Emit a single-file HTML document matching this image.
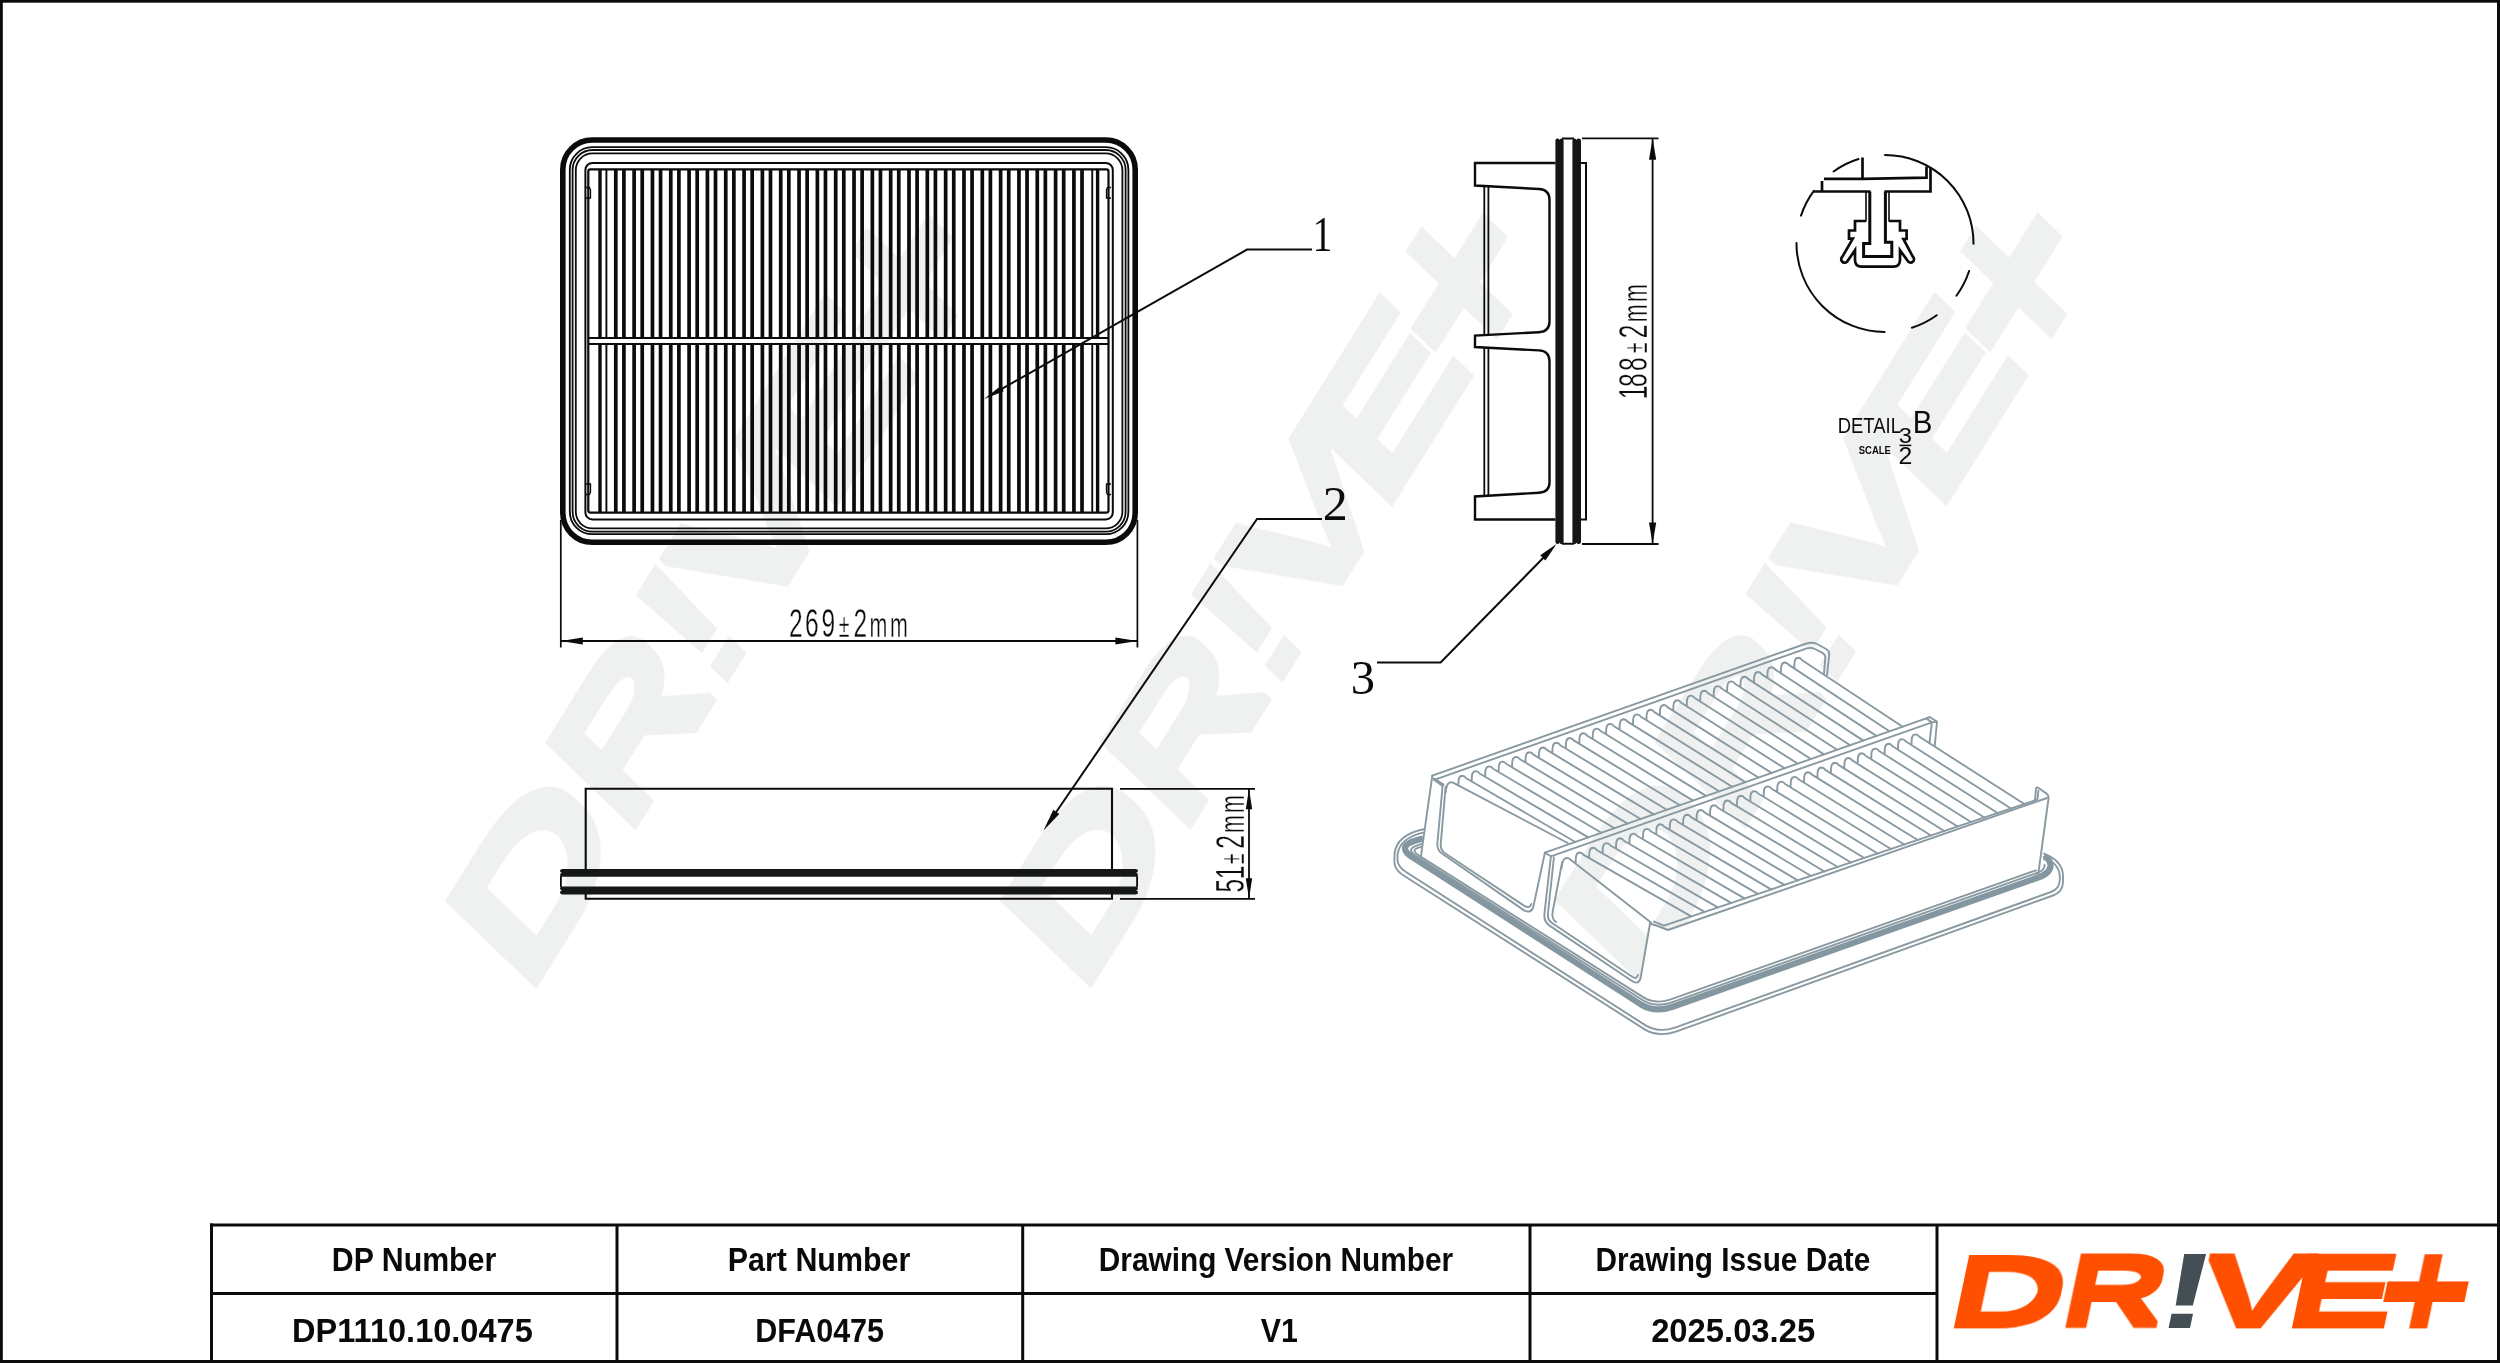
<!DOCTYPE html>
<html lang="en"><head><meta charset="utf-8"><title>DP1110.10.0475 DFA0475 drawing</title>
<style>html,body{margin:0;padding:0;background:#fff;}body{width:2500px;height:1363px;overflow:hidden;}svg{display:block;will-change:transform;}text{white-space:pre;}</style>
</head><body>
<svg width="2500" height="1363" viewBox="0 0 2500 1363">
<defs><filter id="vthick" x="-5%" y="-20%" width="110%" height="140%"><feMorphology operator="dilate" radius="0 3"/></filter></defs>
<rect x="0" y="0" width="2500" height="1363" fill="#fff"/>
<g transform="translate(536.5 989.1) rotate(-58) scale(1.68) skewX(-11.9)"><g filter="url(#vthick)"><text transform="translate(-11.02 -3.00) scale(1.6327 0.9891)" font-family="&quot;Liberation Sans&quot;, sans-serif" font-weight="bold" font-size="100" fill="#eef1f0" >D</text><text transform="translate(101.85 -3.00) scale(1.4451 0.9891)" font-family="&quot;Liberation Sans&quot;, sans-serif" font-weight="bold" font-size="100" fill="#eef1f0" >R</text></g><text transform="translate(200.33 0.00) scale(1.5228 1.0764)" font-family="&quot;Liberation Sans&quot;, sans-serif" font-weight="bold" font-size="100" fill="#eef1f0" >!</text><g filter="url(#vthick)"><text transform="translate(238.75 -3.00) scale(1.6705 0.9891)" font-family="&quot;Liberation Sans&quot;, sans-serif" font-weight="bold" font-size="100" fill="#eef1f0" >V</text><text transform="translate(326.91 -3.00) scale(1.6429 0.9891)" font-family="&quot;Liberation Sans&quot;, sans-serif" font-weight="bold" font-size="100" fill="#eef1f0" >E</text><text transform="translate(417.12 7.72) scale(1.6200 1.3399)" font-family="&quot;Liberation Sans&quot;, sans-serif" font-weight="bold" font-size="100" fill="#eef1f0">+</text></g></g>
<g transform="translate(1091.3 988.5) rotate(-58) scale(1.68) skewX(-11.9)"><g filter="url(#vthick)"><text transform="translate(-11.02 -3.00) scale(1.6327 0.9891)" font-family="&quot;Liberation Sans&quot;, sans-serif" font-weight="bold" font-size="100" fill="#eef1f0" >D</text><text transform="translate(101.85 -3.00) scale(1.4451 0.9891)" font-family="&quot;Liberation Sans&quot;, sans-serif" font-weight="bold" font-size="100" fill="#eef1f0" >R</text></g><text transform="translate(200.33 0.00) scale(1.5228 1.0764)" font-family="&quot;Liberation Sans&quot;, sans-serif" font-weight="bold" font-size="100" fill="#eef1f0" >!</text><g filter="url(#vthick)"><text transform="translate(238.75 -3.00) scale(1.6705 0.9891)" font-family="&quot;Liberation Sans&quot;, sans-serif" font-weight="bold" font-size="100" fill="#eef1f0" >V</text><text transform="translate(326.91 -3.00) scale(1.6429 0.9891)" font-family="&quot;Liberation Sans&quot;, sans-serif" font-weight="bold" font-size="100" fill="#eef1f0" >E</text><text transform="translate(417.12 7.72) scale(1.6200 1.3399)" font-family="&quot;Liberation Sans&quot;, sans-serif" font-weight="bold" font-size="100" fill="#eef1f0">+</text></g></g>
<g transform="translate(1646 988) rotate(-58) scale(1.68) skewX(-11.9)"><g filter="url(#vthick)"><text transform="translate(-11.02 -3.00) scale(1.6327 0.9891)" font-family="&quot;Liberation Sans&quot;, sans-serif" font-weight="bold" font-size="100" fill="#eef1f0" >D</text><text transform="translate(101.85 -3.00) scale(1.4451 0.9891)" font-family="&quot;Liberation Sans&quot;, sans-serif" font-weight="bold" font-size="100" fill="#eef1f0" >R</text></g><text transform="translate(200.33 0.00) scale(1.5228 1.0764)" font-family="&quot;Liberation Sans&quot;, sans-serif" font-weight="bold" font-size="100" fill="#eef1f0" >!</text><g filter="url(#vthick)"><text transform="translate(238.75 -3.00) scale(1.6705 0.9891)" font-family="&quot;Liberation Sans&quot;, sans-serif" font-weight="bold" font-size="100" fill="#eef1f0" >V</text><text transform="translate(326.91 -3.00) scale(1.6429 0.9891)" font-family="&quot;Liberation Sans&quot;, sans-serif" font-weight="bold" font-size="100" fill="#eef1f0" >E</text><text transform="translate(417.12 7.72) scale(1.6200 1.3399)" font-family="&quot;Liberation Sans&quot;, sans-serif" font-weight="bold" font-size="100" fill="#eef1f0">+</text></g></g>
<path d="M1650 923L1668 930L2047 798L2048.5 800L2044 854Q2064 862 2063 876L2062 892L1675 1032Q1660 1037 1646 1030L1404 875.5Q1394 868 1394.5 856Q1396 836 1423 829L1420.9 856.3L1440 852L1524 910L1545 916L1550 928L1634 983L1640 980Z" fill="#fff"/>
<g fill="none" stroke="#8999a1" stroke-width="1.9" stroke-linecap="round" stroke-linejoin="round">
<path d="M1423.3 829.2Q1397 835 1394.6 853L1394.4 862Q1394.5 870 1404 875.8L1645 1029.6Q1659 1037.5 1676 1031.6L2053 895.5Q2062.8 892 2063 882V876Q2063 861 2044 853.6"/>
<path d="M1423 832.6Q1400 838 1397.6 854L1397.5 859.5Q1397.6 866.5 1406 872L1646 1025.6Q1659 1033 1675 1027.6L2051 892Q2059.6 888.6 2059.8 880V876.5Q2059.6 864 2043.6 857"/>
<path d="M1423 838.6Q1402 843 1405.5 850.5Q1407 854 1412 857L1641 1004.5Q1655 1013 1672 1007L2038 877.5Q2051 873 2050.5 865Q2050 858.5 2043.8 856.8" stroke="#8497a1" stroke-width="6.2" stroke-linecap="butt"/>
<path d="M1422.6 843.8Q1409 847 1411.4 851.6Q1413 854 1416 856L1642.5 1000Q1655 1008 1671 1002.6L2037 873Q2045 870 2044.6 865"/>
<path d="M1422.4 846.6Q1413.5 848.6 1414.6 851.4Q1415.6 853.4 1418.6 855.4L1643.5 997.4Q1655 1004.6 1670 999.6L2036 870.4"/>
<path d="M1432.3 775.6L1442.6 785.9L1437.5 843L1437 851L1420.9 856.3Z" fill="#fff" stroke="none"/>
<path d="M1432.3 775.6L1805 644Q1812 641.5 1817 644L1826 649Q1829.6 651 1829.2 655L1827 675"/>
<path d="M1434.2 779.9L1806 648.6Q1811 647 1815 649L1822 652.6Q1825.6 654.6 1825.3 658L1824 674"/>
<path d="M1432.3 775.6L1420.9 856.3"/>
<path d="M1434.2 779.9L1442.6 785.9M1433.6 778.4L1443.6 784.6" />
<path d="M1442.6 785.9L1437.5 842Q1436.6 850 1442 853.5L1523 909.6Q1530.6 914.6 1533.2 907.4L1544.9 852.7"/>
<path d="M1445.6 787L1440.8 843Q1440 850 1445 853.2L1524 905.6Q1529.6 909 1531.4 904"/>
<path d="M1445.8 792Q1446.6 780.4 1453 782.6L1567.7 843"/>
<path d="M1544.9 852.7L1926.2 718.4L1929.8 717L1937 721.7L1934.8 745.4"/>
<path d="M1550.9 856.3L1931.9 722.4L1929.4 743.3M1544.9 852.7L1550.9 856.3M1926.2 718.4L1931.9 722.4L1937 721.7"/>
<path d="M1550.9 856.3L1544.4 914Q1543.6 921.6 1549.6 925.6L1632 981Q1638.6 985.4 1640.6 978L1650 923.5"/>
<path d="M1553.9 857.5L1547.9 914Q1547.4 920 1552 923L1632.6 977Q1636.6 979.6 1638 975"/>
<path d="M1561.6 868Q1562.6 855.8 1569 858.4L1651 922.6"/>
<path d="M1562.2 862L1552.6 912Q1551.4 919 1556 922"/>
<path d="M1650 923.5L1659 926.5L1668 930L2047 798"/>
<path d="M1654 921.6L1664 925.6L2036 800"/>
<path d="M2035 800.5L2036 788.6Q2036.6 786.6 2038.6 788L2046.6 793.6Q2048.8 795.4 2048.6 798L2038 876"/>
<path d="M2038.4 790.6L2037.4 799.4"/>
<path d="M1458.4 785.4C1458.1 779.4 1459.0 775.8 1462.4 775.8Q1464.6 776.0 1466.2 778.2L1575.3 842.0M1471.8 780.7C1471.5 774.7 1472.4 771.1 1475.8 771.1Q1478.0 771.3 1479.6 773.5L1588.3 837.4M1485.3 776.0C1485.0 770.0 1485.9 766.4 1489.3 766.4Q1491.5 766.6 1493.1 768.8L1601.4 832.8M1498.7 771.2C1498.4 765.2 1499.3 761.6 1502.7 761.6Q1504.9 761.8 1506.5 764.0L1614.5 828.2M1512.2 766.5C1511.9 760.5 1512.8 756.9 1516.2 756.9Q1518.4 757.1 1520.0 759.3L1627.6 823.6M1525.6 761.8C1525.3 755.8 1526.2 752.2 1529.6 752.2Q1531.8 752.4 1533.4 754.6L1640.6 819.0M1539.0 757.1C1538.7 751.1 1539.6 747.5 1543.0 747.5Q1545.2 747.7 1546.8 749.9L1653.7 814.4M1552.5 752.4C1552.2 746.4 1553.1 742.8 1556.5 742.8Q1558.7 743.0 1560.3 745.2L1666.8 809.8M1565.9 747.6C1565.6 741.6 1566.5 738.0 1569.9 738.0Q1572.1 738.2 1573.7 740.4L1679.9 805.2M1579.4 742.9C1579.1 736.9 1580.0 733.3 1583.4 733.3Q1585.6 733.5 1587.2 735.7L1693.0 800.6M1592.8 738.2C1592.5 732.2 1593.4 728.6 1596.8 728.6Q1599.0 728.8 1600.6 731.0L1706.1 795.9M1606.2 733.5C1605.9 727.5 1606.8 723.9 1610.2 723.9Q1612.4 724.1 1614.0 726.3L1719.2 791.3M1619.7 728.8C1619.4 722.8 1620.3 719.2 1623.7 719.2Q1625.9 719.4 1627.5 721.6L1732.2 786.7M1633.1 724.0C1632.8 718.0 1633.7 714.4 1637.1 714.4Q1639.3 714.6 1640.9 716.8L1745.3 782.1M1646.6 719.3C1646.3 713.3 1647.2 709.7 1650.6 709.7Q1652.8 709.9 1654.4 712.1L1758.4 777.5M1660.0 714.6C1659.7 708.6 1660.6 705.0 1664.0 705.0Q1666.2 705.2 1667.8 707.4L1771.5 772.9M1673.4 709.9C1673.1 703.9 1674.0 700.3 1677.4 700.3Q1679.6 700.5 1681.2 702.7L1784.6 768.3M1686.9 705.2C1686.6 699.2 1687.5 695.6 1690.9 695.6Q1693.1 695.8 1694.7 698.0L1797.7 763.6M1700.3 700.4C1700.0 694.4 1700.9 690.8 1704.3 690.8Q1706.5 691.0 1708.1 693.2L1810.9 759.0M1713.8 695.7C1713.5 689.7 1714.4 686.1 1717.8 686.1Q1720.0 686.3 1721.6 688.5L1824.0 754.4M1727.2 691.0C1726.9 685.0 1727.8 681.4 1731.2 681.4Q1733.4 681.6 1735.0 683.8L1837.1 749.8M1740.6 686.3C1740.3 680.3 1741.2 676.7 1744.6 676.7Q1746.8 676.9 1748.4 679.1L1850.2 745.2M1754.1 681.6C1753.8 675.6 1754.7 672.0 1758.1 672.0Q1760.3 672.2 1761.9 674.4L1863.3 740.6M1767.5 676.8C1767.2 670.8 1768.1 667.2 1771.5 667.2Q1773.7 667.4 1775.3 669.6L1876.4 735.9M1781.0 672.1C1780.7 666.1 1781.6 662.5 1785.0 662.5Q1787.2 662.7 1788.8 664.9L1889.5 731.3M1794.4 667.4C1794.1 661.4 1795.0 657.8 1798.4 657.8Q1800.6 658.0 1802.2 660.2L1902.7 726.7"/>
<path d="M1575.8 862.1C1575.5 856.1 1576.4 852.5 1579.8 852.5Q1582.0 852.7 1583.6 854.9L1691.2 916.4M1589.2 857.4C1588.9 851.4 1589.8 847.8 1593.2 847.8Q1595.4 848.0 1597.0 850.2L1704.5 911.9M1602.7 852.7C1602.4 846.7 1603.3 843.1 1606.7 843.1Q1608.9 843.3 1610.5 845.5L1717.8 907.4M1616.1 847.9C1615.8 841.9 1616.7 838.3 1620.1 838.3Q1622.3 838.5 1623.9 840.7L1731.1 902.9M1629.5 843.2C1629.2 837.2 1630.1 833.6 1633.5 833.6Q1635.7 833.8 1637.3 836.0L1744.4 898.4M1643.0 838.5C1642.7 832.5 1643.6 828.9 1647.0 828.9Q1649.2 829.1 1650.8 831.3L1757.8 893.9M1656.4 833.8C1656.1 827.8 1657.0 824.2 1660.4 824.2Q1662.6 824.4 1664.2 826.6L1771.1 889.4M1669.8 829.0C1669.5 823.0 1670.4 819.4 1673.8 819.4Q1676.0 819.6 1677.6 821.8L1784.4 884.9M1683.2 824.3C1682.9 818.3 1683.8 814.7 1687.2 814.7Q1689.4 814.9 1691.0 817.1L1797.7 880.4M1696.7 819.6C1696.4 813.6 1697.3 810.0 1700.7 810.0Q1702.9 810.2 1704.5 812.4L1811.1 876.0M1710.1 814.9C1709.8 808.9 1710.7 805.3 1714.1 805.3Q1716.3 805.5 1717.9 807.7L1824.4 871.5M1723.5 810.1C1723.2 804.1 1724.1 800.5 1727.5 800.5Q1729.7 800.7 1731.3 802.9L1837.7 867.0M1737.0 805.4C1736.7 799.4 1737.6 795.8 1741.0 795.8Q1743.2 796.0 1744.8 798.2L1851.0 862.5M1750.4 800.7C1750.1 794.7 1751.0 791.1 1754.4 791.1Q1756.6 791.3 1758.2 793.5L1864.3 858.0M1763.8 796.0C1763.5 790.0 1764.4 786.4 1767.8 786.4Q1770.0 786.6 1771.6 788.8L1877.7 853.5M1777.3 791.2C1777.0 785.2 1777.9 781.6 1781.3 781.6Q1783.5 781.8 1785.1 784.0L1891.0 849.0M1790.7 786.5C1790.4 780.5 1791.3 776.9 1794.7 776.9Q1796.9 777.1 1798.5 779.3L1904.3 844.5M1804.1 781.8C1803.8 775.8 1804.7 772.2 1808.1 772.2Q1810.3 772.4 1811.9 774.6L1917.7 840.0M1817.5 777.1C1817.2 771.1 1818.1 767.5 1821.5 767.5Q1823.7 767.7 1825.3 769.9L1931.0 835.5M1831.0 772.3C1830.7 766.3 1831.6 762.7 1835.0 762.7Q1837.2 762.9 1838.8 765.1L1944.3 831.0M1844.4 767.6C1844.1 761.6 1845.0 758.0 1848.4 758.0Q1850.6 758.2 1852.2 760.4L1957.6 826.5M1857.8 762.9C1857.5 756.9 1858.4 753.3 1861.8 753.3Q1864.0 753.5 1865.6 755.7L1971.0 822.0M1871.3 758.2C1871.0 752.2 1871.9 748.6 1875.3 748.6Q1877.5 748.8 1879.1 751.0L1984.3 817.5M1884.7 753.4C1884.4 747.4 1885.3 743.8 1888.7 743.8Q1890.9 744.0 1892.5 746.2L1997.6 813.0M1898.1 748.7C1897.8 742.7 1898.7 739.1 1902.1 739.1Q1904.3 739.3 1905.9 741.5L2011.0 808.5M1911.6 744.0C1911.3 738.0 1912.2 734.4 1915.6 734.4Q1917.8 734.6 1919.4 736.8L2024.3 804.0"/>
</g>
<g fill="none" stroke="#0b0b0b">
<path d="M592.3 140H1105.7A29.5 29.5 0 0 1 1135.2 169.5V512.8A29.5 29.5 0 0 1 1105.7 542.3H592.3A29.5 29.5 0 0 1 562.8 512.8V169.5A29.5 29.5 0 0 1 592.3 140Z" stroke-width="5.6"/>
<path d="M592.3 147.2H1105.9A22.5 22.5 0 0 1 1128.4 169.7V511.70000000000005A22.5 22.5 0 0 1 1105.9 534.2H592.3A22.5 22.5 0 0 1 569.8 511.70000000000005V169.7A22.5 22.5 0 0 1 592.3 147.2Z" stroke-width="1.8"/>
<path d="M592.4 150H1105.8A19.8 19.8 0 0 1 1125.6 169.8V511.8A19.8 19.8 0 0 1 1105.8 531.6H592.4A19.8 19.8 0 0 1 572.6 511.8V169.8A19.8 19.8 0 0 1 592.4 150Z" stroke-width="1.8"/>
<path d="M592.4 153.4H1105.8000000000002A16.6 16.6 0 0 1 1122.4 170.0V511.79999999999995A16.6 16.6 0 0 1 1105.8000000000002 528.4H592.4A16.6 16.6 0 0 1 575.8 511.79999999999995V170.0A16.6 16.6 0 0 1 592.4 153.4Z" stroke-width="1.8"/>
<path d="M592.4 163H1105.8A7 7 0 0 1 1112.8 170V512.4A7 7 0 0 1 1105.8 519.4H592.4A7 7 0 0 1 585.4 512.4V170A7 7 0 0 1 592.4 163Z" stroke-width="2"/>
<path d="M590.3 169.4H1106.5A2 2 0 0 1 1108.5 171.4V510.6A2 2 0 0 1 1106.5 512.6H590.3A2 2 0 0 1 588.3 510.6V171.4A2 2 0 0 1 590.3 169.4Z" stroke-width="2.2"/>
<path d="M588.3 338H1108.5M588.3 344H1108.5" stroke-width="2.2"/>
<path d="M586 187.5h3.5l1 2.5v8h-4.5M586 494.5h3.5l1 -2.5v-8h-4.5M1111 187.5h-3.5l-1 2.5v8h4.5M1111 494.5h-3.5l-1 -2.5v-8h4.5" stroke-width="1.3"/>
<path d="M615.80 170V337.5M615.80 344.5V512M623.90 170V337.5M623.90 344.5V512M634.12 170V337.5M634.12 344.5V512M642.23 170V337.5M642.23 344.5V512M652.45 170V337.5M652.45 344.5V512M660.55 170V337.5M660.55 344.5V512M670.77 170V337.5M670.77 344.5V512M678.88 170V337.5M678.88 344.5V512M689.10 170V337.5M689.10 344.5V512M697.20 170V337.5M697.20 344.5V512M707.42 170V337.5M707.42 344.5V512M715.52 170V337.5M715.52 344.5V512M725.75 170V337.5M725.75 344.5V512M733.85 170V337.5M733.85 344.5V512M744.07 170V337.5M744.07 344.5V512M752.17 170V337.5M752.17 344.5V512M762.40 170V337.5M762.40 344.5V512M770.50 170V337.5M770.50 344.5V512M780.72 170V337.5M780.72 344.5V512M788.82 170V337.5M788.82 344.5V512M799.05 170V337.5M799.05 344.5V512M807.15 170V337.5M807.15 344.5V512M817.38 170V337.5M817.38 344.5V512M825.48 170V337.5M825.48 344.5V512M835.70 170V337.5M835.70 344.5V512M843.80 170V337.5M843.80 344.5V512M854.02 170V337.5M854.02 344.5V512M862.12 170V337.5M862.12 344.5V512M872.35 170V337.5M872.35 344.5V512M880.45 170V337.5M880.45 344.5V512M890.67 170V337.5M890.67 344.5V512M898.77 170V337.5M898.77 344.5V512M909.00 170V337.5M909.00 344.5V512M917.10 170V337.5M917.10 344.5V512M927.32 170V337.5M927.32 344.5V512M935.42 170V337.5M935.42 344.5V512M945.65 170V337.5M945.65 344.5V512M953.75 170V337.5M953.75 344.5V512M963.97 170V337.5M963.97 344.5V512M972.07 170V337.5M972.07 344.5V512M982.30 170V337.5M982.30 344.5V512M990.40 170V337.5M990.40 344.5V512M1000.62 170V337.5M1000.62 344.5V512M1008.73 170V337.5M1008.73 344.5V512M1018.95 170V337.5M1018.95 344.5V512M1027.05 170V337.5M1027.05 344.5V512M1037.27 170V337.5M1037.27 344.5V512M1045.37 170V337.5M1045.37 344.5V512M1055.60 170V337.5M1055.60 344.5V512M1063.70 170V337.5M1063.70 344.5V512M1073.92 170V337.5M1073.92 344.5V512M1082.02 170V337.5M1082.02 344.5V512" stroke-width="3.7"/>
<path d="M600.00 170V337.5M600.00 344.5V512M1097.60 170V337.5M1097.60 344.5V512" stroke-width="3.4"/>
<path d="M1092.25 170V337.5M1092.25 344.5V512M606.40 170V337.5M606.40 344.5V512" stroke-width="1.9"/>
</g>
<g fill="none" stroke="#0b0b0b">
<path d="M560.8 520V647.6M1137.4 520V647.6" stroke-width="1.7"/>
<path d="M561 641H1137.2" stroke-width="1.9"/>
</g>
<path d="M560.80 641.00L582.80 637.60L582.80 644.40Z" fill="#0b0b0b" stroke="none"/>
<path d="M1137.40 641.00L1115.40 644.40L1115.40 637.60Z" fill="#0b0b0b" stroke="none"/>
<text transform="translate(0 636.7) scale(0.2450 0.4040)" font-family="&quot;Liberation Sans&quot;, sans-serif" font-weight="normal" font-size="100" fill="#0b0b0b" stroke="#fff" stroke-width="1.0"><tspan x="3220.6" font-size="100">2</tspan><tspan x="3285.8" font-size="100">6</tspan><tspan x="3353.3" font-size="100">9</tspan><tspan x="3423.9" font-size="80">±</tspan><tspan x="3483.5" font-size="100">2</tspan><tspan x="3549.4" font-size="87.5">m</tspan><tspan x="3632.9" font-size="87.5">m</tspan></text>
<g fill="none" stroke="#0b0b0b">
<path d="M585.7 869V788.8H1112V869M585.7 894V898.8H1112V894" stroke-width="2.1"/>
</g>
<path d="M562.5 869H1135.5Q1138 869 1138 870.8Q1138 872.6 1136 872.8Q1138 873 1138 875Q1138 876.8 1135.5 876.8H562.5Q560 876.8 560 875Q560 873 562 872.8Q560 872.6 560 870.8Q560 869 562.5 869Z" fill="#151717"/>
<path d="M562.5 886.4H1135.5Q1138 886.4 1138 888.2Q1138 890 1136 890.3Q1138 890.6 1138 892.6Q1138 894.6 1135.5 894.6H562.5Q560 894.6 560 892.6Q560 890.6 562 890.3Q560 890 560 888.2Q560 886.4 562.5 886.4Z" fill="#151717"/>
<path d="M560.9 876V887M1137.1 876V887" stroke="#0b0b0b" stroke-width="1.8" fill="none"/>
<g fill="none" stroke="#0b0b0b">
<path d="M1120 788.8H1255M1120 898.8H1255" stroke-width="1.8"/>
<path d="M1249 789V898.6" stroke-width="1.8"/>
</g>
<path d="M1249.00 788.80L1252.20 809.30L1245.80 809.30Z" fill="#0b0b0b" stroke="none"/>
<path d="M1249.00 898.80L1245.80 878.30L1252.20 878.30Z" fill="#0b0b0b" stroke="none"/>
<text transform="translate(1243.9 891.6) rotate(-90) scale(0.2450 0.4040)" font-family="&quot;Liberation Sans&quot;, sans-serif" font-weight="normal" font-size="100" fill="#0b0b0b" stroke="#fff" stroke-width="1.0"><tspan x="-3.5" font-size="100">5</tspan><tspan x="50.9" font-size="100">1</tspan><tspan x="111.5" font-size="80">±</tspan><tspan x="174.9" font-size="100">2</tspan><tspan x="239.0" font-size="87.5">m</tspan><tspan x="320.6" font-size="87.5">m</tspan></text>
<g fill="none" stroke="#0b0b0b">
<path d="M1555.5 163H1475V185.5L1539 189Q1549.5 189.6 1549.5 200V321.5Q1549.5 331.6 1539 332.2L1475 335.6V347L1539 350.4Q1549.5 351 1549.5 361.5V482.5Q1549.5 492 1539 492.7L1475 496.5V519.5H1555.5" stroke-width="2.4"/>
<path d="M1484.3 186.2V335M1488.4 186.4V334.8M1484.3 347.6V495.8M1488.4 347.8V495.6" stroke-width="1.8"/>
<path d="M1581 163H1586V519.5H1581" stroke-width="2"/>
<path d="M1562 138.6H1574M1562 543.8H1574" stroke-width="2"/>
</g>
<path d="M1555.4 140.5Q1555.4 138.6 1557.4 138.6Q1559.2 138.6 1559.4 140Q1559.6 138.4 1561.6 138.4Q1563.6 138.4 1563.6 140.5V542Q1563.6 544 1561.6 544Q1559.6 544 1559.4 542.5Q1559.2 544 1557.4 544Q1555.4 544 1555.4 542Z" fill="#151717"/>
<path d="M1572.4 140.5Q1572.4 138.4 1574.4 138.4Q1576.4 138.4 1576.6 140Q1576.8 138.6 1578.8 138.6Q1581 138.6 1581 140.5V542Q1581 544 1578.8 544Q1576.8 544 1576.6 542.5Q1576.4 544 1574.4 544Q1572.4 544 1572.4 542Z" fill="#151717"/>
<g fill="none" stroke="#0b0b0b">
<path d="M1582 138.3H1658.5M1582 544H1658.5" stroke-width="1.8"/>
<path d="M1652.6 139V543.5" stroke-width="1.8"/>
</g>
<path d="M1652.60 138.30L1656.20 159.80L1649.00 159.80Z" fill="#0b0b0b" stroke="none"/>
<path d="M1652.60 544.00L1649.00 522.50L1656.20 522.50Z" fill="#0b0b0b" stroke="none"/>
<text transform="translate(1647.4 396.6) rotate(-90) scale(0.2450 0.4040)" font-family="&quot;Liberation Sans&quot;, sans-serif" font-weight="normal" font-size="100" fill="#0b0b0b" stroke="#fff" stroke-width="1.0"><tspan x="-11.2" font-size="100">1</tspan><tspan x="39.2" font-size="100">8</tspan><tspan x="104.5" font-size="100">8</tspan><tspan x="176.6" font-size="80">±</tspan><tspan x="238.0" font-size="100">2</tspan><tspan x="303.1" font-size="87.5">m</tspan><tspan x="385.7" font-size="87.5">m</tspan></text>
<g fill="none" stroke="#0b0b0b" stroke-linejoin="miter">
<path d="M1885 155A88.5 88.5 0 1 1 1885 332A88.5 88.5 0 1 1 1885 155" stroke-width="2" stroke-dasharray="139 27.8 27.8 27.8 27.8 27.8" stroke-linecap="round"/>
<g stroke-width="2.7">
<path d="M1824 178.8H1863L1926.5 177.6V166.5"/>
<path d="M1862.5 157.5V178.8"/>
<path d="M1822 181V191.5"/>
<path d="M1813.5 191.5H1870.5"/>
<path d="M1884.5 191.5H1930.5V167"/>
<path d="M1869.8 191.5V243.6H1863.6V256.6H1891.8V242.2H1885.4V191.5" stroke-width="3"/>
<path d="M1866 221H1855V230.5H1849V238.6H1852.8L1842.4 256.6A3.1 3.1 0 1 0 1847 261.8L1855 250.2V260Q1855 266.6 1861.5 266.6H1893.4Q1900 266.6 1900 260V250.2L1908.4 261.8A3.1 3.1 0 1 0 1912.8 256.6L1903.4 239H1906.6V230.5H1900V221H1889"/>
</g>
<path d="M1866 191.5V221.5M1889 191.5V221.5" stroke-width="1.6"/>
<path d="M1899.5 445.4H1911.3" stroke-width="1.5"/>
</g>
<text transform="translate(1837.68 433.00) scale(0.1846 0.2138)" font-family="&quot;Liberation Sans&quot;, sans-serif" font-weight="normal" font-size="100" fill="#0b0b0b" >DETAIL</text>
<text transform="translate(1912.87 433.00) scale(0.2948 0.3200)" font-family="&quot;Liberation Sans&quot;, sans-serif" font-weight="normal" font-size="100" fill="#0b0b0b" >B</text>
<text transform="translate(1858.71 453.60) scale(0.0952 0.1161)" font-family="&quot;Liberation Sans&quot;, sans-serif" font-weight="bold" font-size="100" fill="#0b0b0b" >SCALE</text>
<text transform="translate(1898.81 443.30) scale(0.2379 0.2294)" font-family="&quot;Liberation Sans&quot;, sans-serif" font-weight="normal" font-size="100" fill="#0b0b0b" >3</text>
<text transform="translate(1898.46 463.70) scale(0.2484 0.2323)" font-family="&quot;Liberation Sans&quot;, sans-serif" font-weight="normal" font-size="100" fill="#0b0b0b" >2</text>
<g fill="none" stroke="#0b0b0b" stroke-width="2">
<path d="M1312 249.6H1247L990 395.6"/>
<path d="M1322 519H1257L1048 824"/>
<path d="M1377 662.4H1440.6L1552 549"/>
</g>
<path d="M984.00 399.00L1000.73 385.93L1003.79 391.32Z" fill="#0b0b0b" stroke="none"/>
<path d="M1043.50 830.50L1053.31 809.82L1059.25 813.89Z" fill="#0b0b0b" stroke="none"/>
<path d="M1556.50 544.00L1545.39 560.42L1540.26 555.37Z" fill="#0b0b0b" stroke="none"/>
<text transform="translate(1312.52 251.00) scale(0.3972 0.5000)" font-family="&quot;Liberation Serif&quot;, serif" font-weight="normal" font-size="100" fill="#0b0b0b" >1</text>
<text transform="translate(1322.75 520.00) scale(0.5000 0.4830)" font-family="&quot;Liberation Serif&quot;, serif" font-weight="normal" font-size="100" fill="#0b0b0b" >2</text>
<text transform="translate(1350.70 693.50) scale(0.4848 0.4755)" font-family="&quot;Liberation Serif&quot;, serif" font-weight="normal" font-size="100" fill="#0b0b0b" >3</text>
<rect x="0" y="0" width="2500" height="2.7" fill="#0b0b0b"/>
<rect x="0" y="0" width="2.8" height="1363" fill="#0b0b0b"/>
<rect x="0" y="1360" width="2500" height="3" fill="#0b0b0b"/>
<rect x="2497" y="0" width="3" height="1363" fill="#0b0b0b"/>
<g stroke="#0b0b0b" stroke-width="3" fill="none">
<path d="M210 1225H2498M210 1293.5H1937"/>
<path d="M211.5 1223.5V1361M617 1225V1361M1022.7 1225V1361M1530 1225V1361M1937 1225V1361"/>
</g>
<text transform="translate(331.85 1271.20) scale(0.3031 0.3241)" font-family="&quot;Liberation Sans&quot;, sans-serif" font-weight="bold" font-size="100" fill="#0a0a0a" >DP Number</text>
<text transform="translate(292.10 1342.10) scale(0.3255 0.3241)" font-family="&quot;Liberation Sans&quot;, sans-serif" font-weight="bold" font-size="100" fill="#0a0a0a" >DP1110.10.0475</text>
<text transform="translate(727.85 1271.20) scale(0.3041 0.3241)" font-family="&quot;Liberation Sans&quot;, sans-serif" font-weight="bold" font-size="100" fill="#0a0a0a" >Part Number</text>
<text transform="translate(755.14 1342.10) scale(0.3053 0.3241)" font-family="&quot;Liberation Sans&quot;, sans-serif" font-weight="bold" font-size="100" fill="#0a0a0a" >DFA0475</text>
<text transform="translate(1098.79 1271.20) scale(0.2981 0.3241)" font-family="&quot;Liberation Sans&quot;, sans-serif" font-weight="bold" font-size="100" fill="#0a0a0a" >Drawing Version Number</text>
<text transform="translate(1260.77 1342.10) scale(0.3032 0.3241)" font-family="&quot;Liberation Sans&quot;, sans-serif" font-weight="bold" font-size="100" fill="#0a0a0a" >V1</text>
<text transform="translate(1595.59 1271.20) scale(0.2978 0.3241)" font-family="&quot;Liberation Sans&quot;, sans-serif" font-weight="bold" font-size="100" fill="#0a0a0a" >Drawing Issue Date</text>
<text transform="translate(1651.15 1342.10) scale(0.3278 0.3241)" font-family="&quot;Liberation Sans&quot;, sans-serif" font-weight="bold" font-size="100" fill="#0a0a0a" >2025.03.25</text>
<g transform="translate(1953.8 1328.4) rotate(0) scale(1) skewX(-11.9)"><g filter="url(#vthick)"><text transform="translate(-11.02 -3.00) scale(1.6327 0.9891)" font-family="&quot;Liberation Sans&quot;, sans-serif" font-weight="bold" font-size="100" fill="#ff5000" >D</text><text transform="translate(101.85 -3.00) scale(1.4451 0.9891)" font-family="&quot;Liberation Sans&quot;, sans-serif" font-weight="bold" font-size="100" fill="#ff5000" >R</text></g><text transform="translate(200.33 0.00) scale(1.5228 1.0764)" font-family="&quot;Liberation Sans&quot;, sans-serif" font-weight="bold" font-size="100" fill="#444f55" >!</text><g filter="url(#vthick)"><text transform="translate(238.75 -3.00) scale(1.6705 0.9891)" font-family="&quot;Liberation Sans&quot;, sans-serif" font-weight="bold" font-size="100" fill="#ff5000" >V</text><text transform="translate(326.91 -3.00) scale(1.6429 0.9891)" font-family="&quot;Liberation Sans&quot;, sans-serif" font-weight="bold" font-size="100" fill="#ff5000" >E</text><text transform="translate(417.12 7.72) scale(1.6200 1.3399)" font-family="&quot;Liberation Sans&quot;, sans-serif" font-weight="bold" font-size="100" fill="#ff5000">+</text></g></g>
</svg>
</body></html>
